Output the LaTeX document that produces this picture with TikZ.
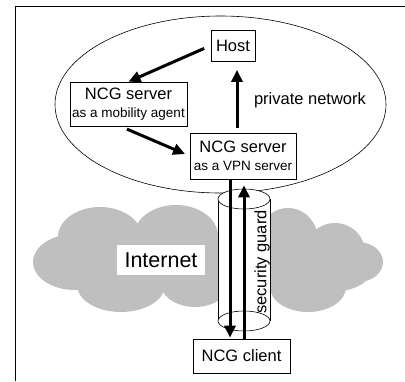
\documentclass[tikz,border=0pt]{standalone}
\usepackage{fontspec}
\setmainfont{Liberation Sans}
\usetikzlibrary{arrows.meta}
\definecolor{cloudgray}{RGB}{191,191,191}
\newcommand{\mainsize}{\fontsize{16.5}{19}\selectfont}
\newcommand{\notesize}{\fontsize{13.5}{16}\selectfont}

\begin{document}
\begin{tikzpicture}
[x=1pt,y=-1pt,
  nodedecorate/.style={shape=rectangle,draw,line width=0.7pt,fill=white,inner sep=0pt,font=\mainsize},%
  arrowdecorate/.style={-{Triangle[length=12pt,width=11pt]},line width=3pt},
  tubedecorate/.style={draw,line width=0.6pt,fill=white}]
\useasboundingbox (0,0) rectangle (405,381);
% frame
\draw[line width=0.8pt] (405,6) -- (15,6) -- (15,381);
% cloud
\foreach \cx/\cy/\rx/\ry in {75/262/42/28, 100/237/42/30, 176/236/42/31,
  121/285/44/27, 195/282/35/25, 150/262/60/30, 250/262/60/30,
  288/240/30/32, 335/252/30/29, 358/262/25/20, 308/287/38/25, 330/272/40/20}
  \fill[cloudgray] (\cx,\cy) ellipse [x radius=\rx pt,y radius=\ry pt];
\node (net) at (161,260) [fill=white,minimum width=88pt,minimum height=30pt,inner sep=0pt,font=\fontsize{21.5}{24}\selectfont] {Internet};
% private network
\draw[line width=0.6pt] (220.5,104.5) ellipse [x radius=165.5pt,y radius=88.5pt];
\node (priv) at (310,100) [font=\mainsize] {private network};
% tunnel
\fill[white] (218,199) rectangle (270,321);
\draw[line width=0.6pt] (218,199) -- (218,321) (270,199) -- (270,321);
\draw[tubedecorate] (244,321) ellipse [x radius=26pt,y radius=10pt];
\draw[tubedecorate] (244,199) ellipse [x radius=26pt,y radius=10pt];
\node (guard) at (262,262) [rotate=90,font=\mainsize] {security guard};
% nodes
\node (host) at (233,46) [nodedecorate,minimum width=44pt,minimum height=31pt] {Host};
\node (agent) at (128.5,104) [nodedecorate,minimum width=117pt,minimum height=44pt,align=center] {NCG server\\[-1pt]{\notesize as a mobility agent}};
\node (vpn) at (243,156) [nodedecorate,minimum width=106pt,minimum height=46pt,align=center] {NCG server\\[-1pt]{\notesize as a VPN server}};
\node (client) at (241.5,356) [nodedecorate,minimum width=97pt,minimum height=34pt] {NCG client};
% edges
\path
([xshift=-1pt]host.west) edge[arrowdecorate,shorten <=6pt] (agent.north)
([xshift=-8pt]agent.south) edge[arrowdecorate,shorten <=7pt,shorten >=5pt] (vpn.west)
([xshift=-6pt]vpn.north) edge[arrowdecorate,shorten <=5pt,shorten >=8pt] ([xshift=-6pt]vpn.north |- host.south)
([xshift=-13pt]vpn.south) edge[arrowdecorate,shorten >=1pt] ([xshift=-13pt]vpn.south |- client.north)
([xshift=2.5pt]client.north) edge[arrowdecorate,shorten >=6pt] ([xshift=2.5pt]client.north |- vpn.south);
\end{tikzpicture}
\end{document}
